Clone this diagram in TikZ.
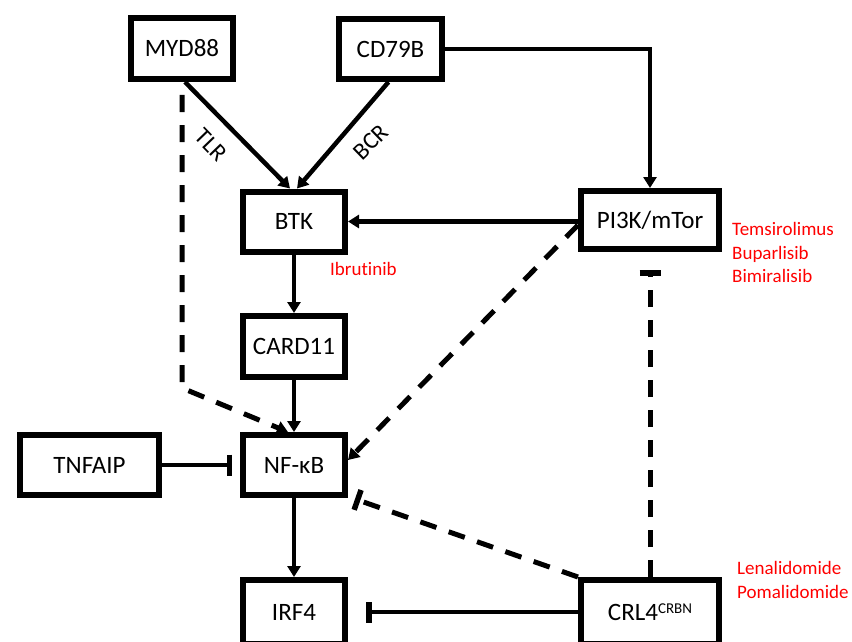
\documentclass[tikz,border=0pt]{standalone}
\usepackage{fontspec}
\setmainfont{Carlito}[Ligatures=NoCommon]
\usetikzlibrary{arrows.meta}
\begin{document}
\begin{tikzpicture}[x=1pt,y=-1pt,
  box/.style={draw=black, line width=6pt, minimum width=102pt, minimum height=60pt, inner sep=0pt, font=\fontsize{25}{30}\selectfont, text=black},
  widebox/.style={box, minimum width=138pt},
  conn/.style={line width=4.5pt},
  dline/.style={line width=5pt, dash pattern=on 17pt off 13pt},
  arr/.style={-{Triangle[width=13pt,length=11pt]}},
  inh/.style={-{Bar[width=21pt,line width=5.5pt]}},
  drug/.style={text=red, font=\fontsize{19}{23}\selectfont, anchor=base west, inner sep=0pt},
  lab/.style={font=\fontsize{24}{28}\selectfont, inner sep=0pt}]
\useasboundingbox (0,0) rectangle (852,642);
\clip (0,0) rectangle (852,642);
\fill[white] (0,0) rectangle (852,642);

% boxes
\node[box, minimum height=61pt] (MYD88) at (182,48.5) {MYD88};
\node[box, minimum width=103pt] (CD79B) at (390.5,49) {CD79B};
\node[box] (BTK) at (294,221.5) {BTK};
\node[widebox, minimum height=58pt] (PI3K) at (650,220) {PI3K/mTor};
\node[box, minimum height=61pt] (CARD11) at (294,346.5) {CARD11};
\node[box] (NFKB) at (294,465) {NF-κB};
\node[widebox, minimum width=139pt] (TNFAIP) at (89.5,465) {TNFAIP};
\node[box, minimum height=64pt] (IRF4) at (294,612) {IRF4};
\node[widebox, minimum height=64pt] (CRL4) at (650,612) {CRL4\raisebox{7pt}{\fontsize{15}{16}\selectfont CRBN}};

% coordinates for free ends
\coordinate (myBend) at (182,388);
\coordinate (nfT) at (355,499);

% solid connectors
\draw[conn, arr] ([xshift=3pt]MYD88.south) -- ([xshift=-4pt]BTK.north);
\draw[conn, arr] ([xshift=-2pt]CD79B.south) -- ([xshift=3pt]BTK.north);
\draw[conn, arr] (CD79B.east) -| (PI3K.north);
\draw[conn, arr] (PI3K.west |- BTK.east) -- (BTK.east);
\draw[conn, arr] (BTK.south) -- (CARD11.north);
\draw[conn, arr] (CARD11.south) -- (NFKB.north);
\draw[conn, arr] (NFKB.south) -- (IRF4.north);
\draw[conn, inh, shorten >=8pt] (TNFAIP.east) -- (NFKB.west);
\draw[conn, inh, shorten >=18pt] (CRL4.west) -- (IRF4.east);

% dashed connectors
\draw[dline, inh, shorten >=18pt] (CRL4.north) -- (PI3K.south);
\draw[dline, inh] (CRL4.north west) -- (nfT);
\draw[dline, arr] ([yshift=-5pt]PI3K.west) -- ([yshift=5pt]NFKB.east);
\draw[dline, arr] ([yshift=-13pt]MYD88.south) -- (myBend) -- ([xshift=-6pt]NFKB.north);

% edge labels
\node[lab, rotate=-46] (TLR) at (211,145) {TLR};
\node[lab, rotate=44] (BCR) at (371,142) {BCR};

% drug labels
\node[drug] (tem) at (732,235) {Temsirolimus};
\node[drug] (bup) at (732,259) {Buparlisib};
\node[drug] (bim) at (732,282) {Bimiralisib};
\node[drug] (ibr) at (330,275) {Ibrutinib};
\node[drug] (len) at (737,574) {Lenalidomide};
\node[drug] (pom) at (737,598) {Pomalidomide};
\end{tikzpicture}
\end{document}
